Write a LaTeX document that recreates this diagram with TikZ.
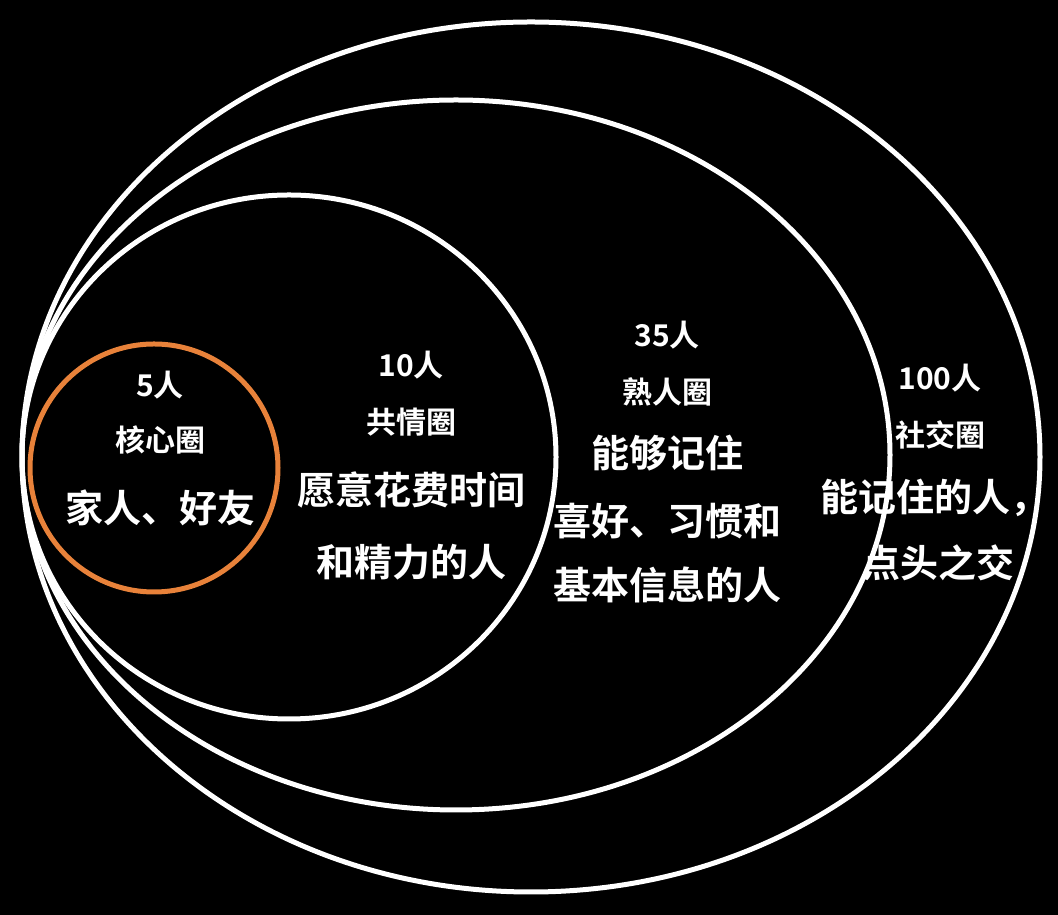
\documentclass[tikz,border=0pt]{standalone}
\usepackage{fontspec}
\newfontfamily\cjk{Noto Sans CJK SC Bold}
\definecolor{org}{HTML}{E8823A}
\begin{document}
\begin{tikzpicture}[x=1pt,y=1pt,
  ring/.style={draw=white,line width=5pt},
  sm/.style={text=white,font=\cjk\fontsize{30}{36}\selectfont,inner sep=0pt},
  bg/.style={text=white,font=\cjk\fontsize{38}{46}\selectfont,inner sep=0pt}]
\fill[black] (0,0) rectangle (1058,915);
\useasboundingbox (0,0) rectangle (1058,915);
\draw[ring] (531,458) ellipse [x radius=509,y radius=435];
\draw[ring] (456,460) ellipse [x radius=434,y radius=355];
\draw[ring] (289,458) ellipse [x radius=267,y radius=262];
\draw[org,line width=5pt] (154,447) circle (124);
\node[sm] (a1) at (160,915-385) {5人};
\node[sm] (a2) at (160,915-440) {核心圈};
\node[bg] (a3) at (160,915-508) {家人、好友};
\node[sm] (b1) at (411,915-365) {10人};
\node[sm] (b2) at (411,915-422) {共情圈};
\node[bg] (b3) at (411,915-490) {愿意花费时间};
\node[bg] (b4) at (411,915-562) {和精力的人};
\node[sm] (c1) at (667,915-335) {35人};
\node[sm] (c2) at (667,915-392) {熟人圈};
\node[bg] (c3) at (667,915-453) {能够记住};
\node[bg] (c4) at (667,915-521) {喜好、习惯和};
\node[bg] (c5) at (667,915-585) {基本信息的人};
\node[sm] (d1) at (940,915-378) {100人};
\node[sm] (d2) at (940,915-435) {社交圈};
\node[bg] (d3) at (934,915-498) {能记住的人，};
\node[bg] (d4) at (938,915-563) {点头之交};
\end{tikzpicture}
\end{document}
